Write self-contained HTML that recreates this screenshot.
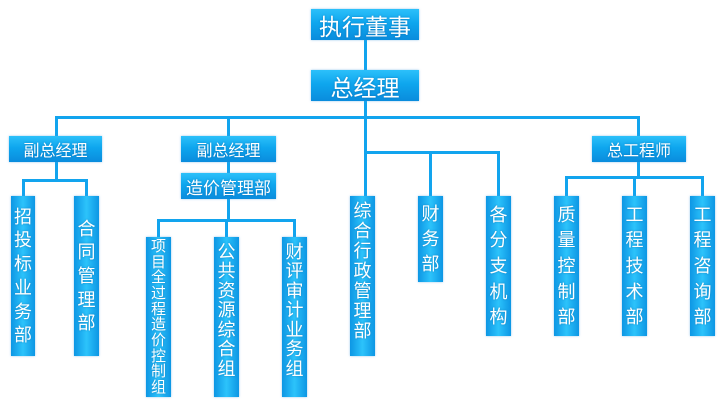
<!DOCTYPE html>
<html><head><meta charset="utf-8"><style>
body{margin:0;width:725px;height:409px;background:#fff;position:relative;overflow:hidden;font-family:"Liberation Sans","Noto Sans CJK SC",sans-serif}
.l{position:absolute;background:#12a4ee}
.b{position:absolute;box-sizing:border-box;color:#fff;display:flex;align-items:center;justify-content:center;
background:linear-gradient(180deg,#2cc0fa 0%,#0ea6ee 45%,#0a8cdd 100%);box-shadow:0 0 2px rgba(80,160,220,.6);text-shadow:0 0 2px rgba(0,60,120,.4)}
.v{flex-direction:column;justify-content:space-evenly;font-size:18px;line-height:1;padding:6px 0;
background:linear-gradient(90deg,#0d96e4 0%,#2cc3fb 50%,#0d96e4 100%)}
.v span{display:block}
</style></head><body>
<!-- lines -->
<div class="l" style="left:364px;top:40px;width:3px;height:31px"></div>
<div class="l" style="left:364px;top:101px;width:3px;height:95px"></div>
<div class="l" style="left:55px;top:116px;width:585px;height:3px"></div>
<div class="l" style="left:55px;top:116px;width:3px;height:20px"></div>
<div class="l" style="left:227px;top:116px;width:3px;height:20px"></div>
<div class="l" style="left:637px;top:116px;width:3px;height:20px"></div>
<div class="l" style="left:55px;top:162px;width:3px;height:19px"></div>
<div class="l" style="left:22px;top:179px;width:66px;height:3px"></div>
<div class="l" style="left:22px;top:179px;width:3px;height:17px"></div>
<div class="l" style="left:85px;top:179px;width:3px;height:17px"></div>
<div class="l" style="left:227px;top:162px;width:3px;height:11px"></div>
<div class="l" style="left:227px;top:199px;width:3px;height:22px"></div>
<div class="l" style="left:157px;top:219px;width:139px;height:3px"></div>
<div class="l" style="left:157px;top:219px;width:3px;height:18px"></div>
<div class="l" style="left:225px;top:219px;width:3px;height:18px"></div>
<div class="l" style="left:293px;top:219px;width:3px;height:18px"></div>
<div class="l" style="left:364px;top:151px;width:136px;height:3px"></div>
<div class="l" style="left:429px;top:151px;width:3px;height:45px"></div>
<div class="l" style="left:497px;top:151px;width:3px;height:45px"></div>
<div class="l" style="left:637px;top:162px;width:3px;height:16px"></div>
<div class="l" style="left:565px;top:176px;width:138px;height:3px"></div>
<div class="l" style="left:565px;top:176px;width:3px;height:20px"></div>
<div class="l" style="left:633px;top:176px;width:3px;height:20px"></div>
<div class="l" style="left:701px;top:176px;width:3px;height:20px"></div>
<!-- boxes -->
<div class="b" style="left:311px;top:9px;width:108px;height:31px;font-size:23px">执行董事</div>
<div class="b" style="left:311px;top:70px;width:108px;height:31px;font-size:23px">总经理</div>
<div class="b" style="left:9px;top:136px;width:93px;height:26px;font-size:16px">副总经理</div>
<div class="b" style="left:181px;top:136px;width:95px;height:26px;font-size:16px">副总经理</div>
<div class="b" style="left:592px;top:136px;width:94px;height:26px;font-size:16px">总工程师</div>
<div class="b" style="left:181px;top:173px;width:95px;height:26px;font-size:17px">造价管理部</div>

<div class="b v" style="left:11px;top:196px;width:24px;height:160px"><span>招</span><span>投</span><span>标</span><span>业</span><span>务</span><span>部</span></div>
<div class="b v" style="left:74px;top:196px;width:25px;height:160px;padding:18px 0"><span>合</span><span>同</span><span>管</span><span>理</span><span>部</span></div>
<div class="b v" style="left:146px;top:237px;width:25px;height:160px;font-size:15px;padding:2px 0;justify-content:space-between;line-height:15px"><span>项</span><span>目</span><span>全</span><span>过</span><span>程</span><span>造</span><span>价</span><span>控</span><span>制</span><span>组</span></div>
<div class="b v" style="left:214px;top:237px;width:25px;height:160px;padding:4px 0 18px"><span>公</span><span>共</span><span>资</span><span>源</span><span>综</span><span>合</span><span>组</span></div>
<div class="b v" style="left:282px;top:237px;width:25px;height:160px;padding:4px 0 18px"><span>财</span><span>评</span><span>审</span><span>计</span><span>业</span><span>务</span><span>组</span></div>
<div class="b v" style="left:350px;top:196px;width:25px;height:160px;padding:4px 0 14px"><span>综</span><span>合</span><span>行</span><span>政</span><span>管</span><span>理</span><span>部</span></div>
<div class="b v" style="left:418px;top:196px;width:25px;height:86px;padding:2px 0"><span>财</span><span>务</span><span>部</span></div>
<div class="b v" style="left:486px;top:196px;width:25px;height:140px;padding:2px 0"><span>各</span><span>分</span><span>支</span><span>机</span><span>构</span></div>
<div class="b v" style="left:554px;top:196px;width:25px;height:140px;padding:2px 0"><span>质</span><span>量</span><span>控</span><span>制</span><span>部</span></div>
<div class="b v" style="left:622px;top:196px;width:25px;height:140px;padding:2px 0"><span>工</span><span>程</span><span>技</span><span>术</span><span>部</span></div>
<div class="b v" style="left:690px;top:196px;width:25px;height:140px;padding:2px 0"><span>工</span><span>程</span><span>咨</span><span>询</span><span>部</span></div>
</body></html>
